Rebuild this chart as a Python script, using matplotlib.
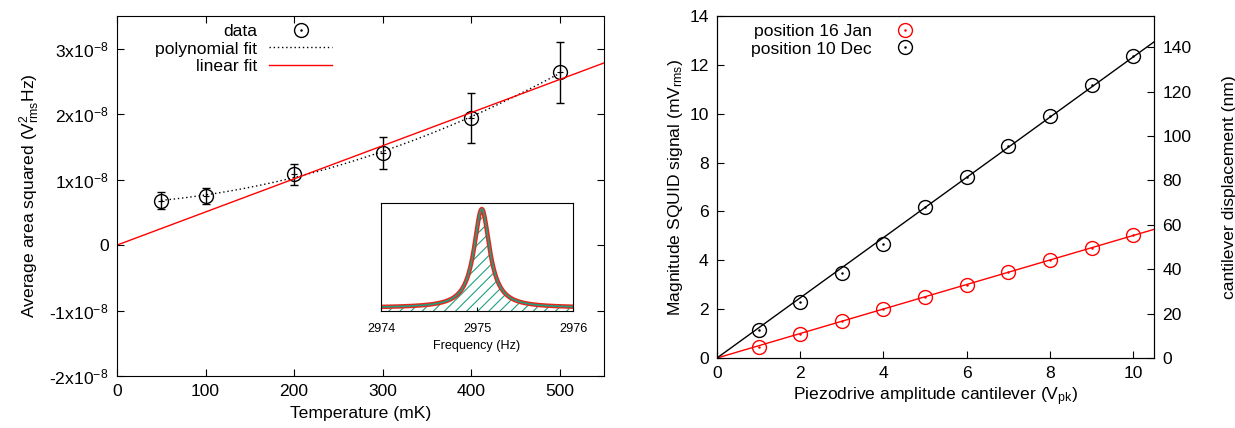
import numpy as np
import matplotlib
matplotlib.use('Agg')
import matplotlib.pyplot as plt
from matplotlib.lines import Line2D

plt.rcParams['font.family'] = ['Liberation Sans', 'DejaVu Sans']
plt.rcParams['mathtext.fontset'] = 'custom'
plt.rcParams['mathtext.rm'] = 'Liberation Sans'
plt.rcParams['mathtext.it'] = 'Liberation Sans'
plt.rcParams['font.size'] = 12.6
plt.rcParams['hatch.linewidth'] = 0.8

## left panel data (temperature sweep)
temp = [50, 100, 200, 300, 400, 500]
area2 = [6.8e-9, 7.5e-9, 10.8e-9, 14.1e-9, 19.4e-9, 26.4e-9]
area2_err = [1.3e-9, 1.2e-9, 1.65e-9, 2.45e-9, 3.8e-9, 4.7e-9]
lin_slope = 5.06e-11
ytick_vals = [-2e-8, -1e-8, 0, 1e-8, 2e-8, 3e-8]
ytick_labs = [r'-2x10$^{-8}$', r'-1x10$^{-8}$', '0', r'1x10$^{-8}$', r'2x10$^{-8}$', r'3x10$^{-8}$']

## inset : lorentzian fit of resonance
f0 = 2975.05
hwhm = 0.1
amp = 0.914
offs = 0.03

## right panel data (piezo drive)
vpk = [1, 2, 3, 4, 5, 6, 7, 8, 9, 10]
sig_jan = [0.47, 1.0, 1.5, 2.0, 2.51, 2.99, 3.51, 4.02, 4.52, 5.02]
sig_dec = [1.13, 2.31, 3.50, 4.66, 6.19, 7.42, 8.67, 9.91, 11.17, 12.36]
nm_per_mv = 11.0

fig = plt.figure(figsize=(12.35, 4.28), dpi=100)

# ---------- left
ax1 = fig.add_axes([117/1235, 52/428, 487/1235, 360/428])
T = np.array(temp); A = np.array(area2); E = np.array(area2_err)
ax1.errorbar(T, A, yerr=E, fmt='none', ecolor='k', elinewidth=1, capsize=3, capthick=1)
ax1.plot(T, A, 'o', mfc='none', mec='k', ms=10, mew=1)
ax1.plot(T, A, '+', color='k', ms=4, mew=0.8)
cf = np.polyfit(T, A, 2)
tt = np.linspace(T[0], T[-1], 200)
ax1.plot(tt, np.polyval(cf, tt), color='k', ls=(0, (1, 2)), lw=1)
tl = np.linspace(0, 550, 10)
ax1.plot(tl, lin_slope*tl, color='red', lw=1)
ax1.set_xlim(0, 550)
ax1.set_ylim(-2e-8, 3.5e-8)
ax1.set_xticks([0, 100, 200, 300, 400, 500])
ax1.set_yticks(ytick_vals)
ax1.set_yticklabels(ytick_labs)
ax1.tick_params(direction='in', top=True, right=True, length=5, pad=6)
ax1.set_xlabel('Temperature (mK)', labelpad=5)
ax1.set_ylabel(r'Average area squared (V$^{2}_{\mathrm{rms}}$Hz)', labelpad=5)

h_data = (Line2D([], [], ls='none', marker='o', mfc='none', mec='k', ms=10),
          Line2D([], [], ls='none', marker='o', color='k', ms=0.8))
h_poly = Line2D([], [], color='k', ls=(0, (1, 2)), lw=1)
h_lin = Line2D([], [], color='red', lw=1)
ax1.legend([h_data, h_poly, h_lin], ['data', 'polynomial fit', 'linear fit'],
           loc='upper right', bbox_to_anchor=(332/1235, 1-24/428), bbox_transform=fig.transFigure,
           frameon=False, markerfirst=False, handlelength=3.6, handletextpad=0.7,
           borderpad=0, borderaxespad=0, labelspacing=0.12)

# ---------- inset
axi = fig.add_axes([381/1235, (428-311)/428, 192/1235, 108/428])
ff = np.linspace(2974, 2976, 600)
lor = offs + amp*hwhm**2/((ff-f0)**2 + hwhm**2)
axi.fill_between(ff, 0, lor, facecolor='none', edgecolor='#1f9f80', hatch='///', lw=0)
axi.plot(ff, lor, color='#e8261c', lw=3.2)
axi.plot(ff, lor, color='#1f9f80', lw=1.2)
axi.set_xlim(2974, 2976)
axi.set_ylim(0, 1.0)
axi.set_xticks([2974, 2975, 2976])
axi.set_yticks([])
axi.tick_params(direction='in', length=3, labelsize=9.1, pad=9)
axi.set_xlabel('Frequency (Hz)', fontsize=9.1, labelpad=3)

# ---------- right
ax2 = fig.add_axes([717/1235, 70/428, 437/1235, 342/428])
V = np.array(vpk); J = np.array(sig_jan); D = np.array(sig_dec)
kj = np.sum(V*J)/np.sum(V*V)
kd = np.sum(V*D)/np.sum(V*V)
vl = np.linspace(0, 10.5, 10)
ax2.plot(vl, kj*vl, color='red', lw=1)
ax2.plot(vl, kd*vl, color='k', lw=1)
ax2.plot(V, J, 'o', mfc='none', mec='red', ms=10, mew=1)
ax2.plot(V, J, 'o', color='red', ms=0.8)
ax2.plot(V, D, 'o', mfc='none', mec='k', ms=10, mew=1)
ax2.plot(V, D, 'o', color='k', ms=0.8)
ax2.set_xlim(0, 10.5)
ax2.set_ylim(0, 14)
ax2.set_xticks(range(0, 11, 2))
ax2.set_yticks(range(0, 15, 2))
ax2.tick_params(direction='in', length=5, pad=6)
ax2.set_xlabel(r'Piezodrive amplitude cantilever (V$_{\mathrm{pk}}$)', labelpad=3)
ax2.set_ylabel(r'Magnitude SQUID signal (mV$_{\mathrm{rms}}$)', labelpad=3)
ax3 = ax2.twinx()
ax3.set_ylim(0, 14*nm_per_mv)
ax3.set_yticks(range(0, 141, 20))
ax3.tick_params(direction='in', length=5, pad=6)
ax3.set_ylabel('cantilever displacement (nm)', labelpad=22)

hj = (Line2D([], [], ls='none', marker='o', mfc='none', mec='red', ms=10),
      Line2D([], [], ls='none', marker='o', color='red', ms=0.8))
hd = (Line2D([], [], ls='none', marker='o', mfc='none', mec='k', ms=10),
      Line2D([], [], ls='none', marker='o', color='k', ms=0.8))
ax2.legend([hj, hd], ['position 16 Jan', 'position 10 Dec'],
           loc='upper right', bbox_to_anchor=(926/1235, 1-24/428), bbox_transform=fig.transFigure,
           frameon=False, markerfirst=False, handlelength=2.4, handletextpad=0.7,
           borderpad=0, borderaxespad=0, labelspacing=0.12)

fig.savefig('out.png', dpi=100)
